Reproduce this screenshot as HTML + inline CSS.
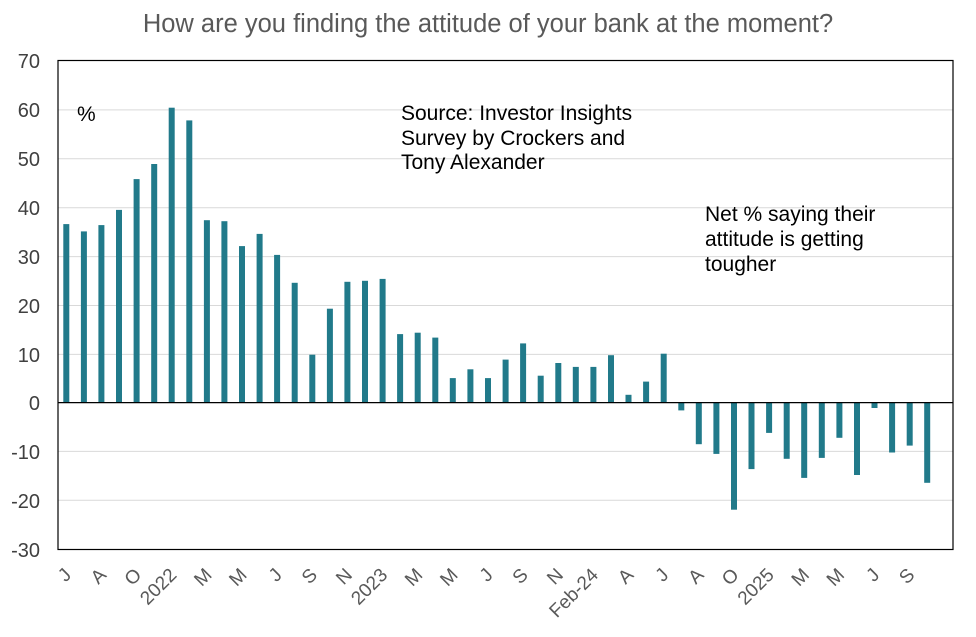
<!DOCTYPE html>
<html><head><meta charset="utf-8"><style>body{margin:0;background:#fff}svg{display:block}</style></head>
<body>
<svg width="976" height="637" xmlns="http://www.w3.org/2000/svg" font-family="Liberation Sans, Arial, sans-serif">
<text x="488" y="32" font-size="25.5" fill="#595959" text-anchor="middle">How are you finding the attitude of your bank at the moment?</text>
<g stroke="#d9d9d9" stroke-width="1">
<line x1="58" x2="953" y1="109.9" y2="109.9"/><line x1="58" x2="953" y1="158.8" y2="158.8"/><line x1="58" x2="953" y1="207.7" y2="207.7"/><line x1="58" x2="953" y1="256.6" y2="256.6"/><line x1="58" x2="953" y1="305.5" y2="305.5"/><line x1="58" x2="953" y1="354.4" y2="354.4"/><line x1="58" x2="953" y1="451.4" y2="451.4"/><line x1="58" x2="953" y1="500.3" y2="500.3"/>
</g>
<g fill="#217a8a">
<rect x="63.3" y="224.1" width="6" height="178.5"/>
<rect x="80.9" y="231.4" width="6" height="171.2"/>
<rect x="98.4" y="225.1" width="6" height="177.5"/>
<rect x="116.0" y="209.9" width="6" height="192.7"/>
<rect x="133.6" y="179.1" width="6" height="223.5"/>
<rect x="151.2" y="164.0" width="6" height="238.6"/>
<rect x="168.7" y="107.7" width="6" height="294.9"/>
<rect x="186.3" y="120.4" width="6" height="282.2"/>
<rect x="203.9" y="220.2" width="6" height="182.4"/>
<rect x="221.4" y="221.2" width="6" height="181.4"/>
<rect x="239.0" y="246.1" width="6" height="156.5"/>
<rect x="256.6" y="233.9" width="6" height="168.7"/>
<rect x="274.1" y="254.9" width="6" height="147.7"/>
<rect x="291.7" y="282.8" width="6" height="119.8"/>
<rect x="309.3" y="354.7" width="6" height="47.9"/>
<rect x="326.9" y="308.7" width="6" height="93.9"/>
<rect x="344.4" y="281.8" width="6" height="120.8"/>
<rect x="362.0" y="280.8" width="6" height="121.8"/>
<rect x="379.6" y="278.9" width="6" height="123.7"/>
<rect x="397.1" y="334.1" width="6" height="68.5"/>
<rect x="414.7" y="332.7" width="6" height="69.9"/>
<rect x="432.3" y="337.6" width="6" height="65.0"/>
<rect x="449.8" y="378.1" width="6" height="24.5"/>
<rect x="467.4" y="369.3" width="6" height="33.3"/>
<rect x="485.0" y="378.1" width="6" height="24.5"/>
<rect x="502.6" y="359.6" width="6" height="43.0"/>
<rect x="520.1" y="343.4" width="6" height="59.2"/>
<rect x="537.7" y="375.7" width="6" height="26.9"/>
<rect x="555.3" y="363.0" width="6" height="39.6"/>
<rect x="572.8" y="366.9" width="6" height="35.7"/>
<rect x="590.4" y="366.9" width="6" height="35.7"/>
<rect x="608.0" y="355.2" width="6" height="47.4"/>
<rect x="625.5" y="394.8" width="6" height="7.8"/>
<rect x="643.1" y="381.6" width="6" height="21.0"/>
<rect x="660.7" y="353.7" width="6" height="48.9"/>
<rect x="678.3" y="402.6" width="6" height="7.8"/>
<rect x="695.8" y="402.6" width="6" height="41.6"/>
<rect x="713.4" y="402.6" width="6" height="51.3"/>
<rect x="731.0" y="402.6" width="6" height="107.1"/>
<rect x="748.5" y="402.6" width="6" height="66.5"/>
<rect x="766.1" y="402.6" width="6" height="30.3"/>
<rect x="783.7" y="402.6" width="6" height="56.2"/>
<rect x="801.2" y="402.6" width="6" height="75.3"/>
<rect x="818.8" y="402.6" width="6" height="55.3"/>
<rect x="836.4" y="402.6" width="6" height="35.2"/>
<rect x="854.0" y="402.6" width="6" height="72.4"/>
<rect x="871.5" y="402.6" width="6" height="5.4"/>
<rect x="889.1" y="402.6" width="6" height="49.9"/>
<rect x="906.7" y="402.6" width="6" height="43.0"/>
<rect x="924.2" y="402.6" width="6" height="80.2"/>
</g>
<rect x="58" y="60.5" width="895" height="489" fill="none" stroke="#000" stroke-width="1.2"/>
<line x1="58" x2="953" y1="402.6" y2="402.6" stroke="#000" stroke-width="1.2"/>
<g font-size="20" fill="#404040" text-anchor="end">
<text x="40" y="68">70</text><text x="40" y="117">60</text><text x="40" y="166">50</text><text x="40" y="215">40</text><text x="40" y="264">30</text><text x="40" y="313">20</text><text x="40" y="362">10</text><text x="40" y="410">0</text><text x="40" y="459">-10</text><text x="40" y="508">-20</text><text x="40" y="557">-30</text>
</g>
<g font-size="21" fill="#000">
<text x="77" y="121">%</text>
<text x="401" y="120">Source: Investor Insights</text>
<text x="401" y="145">Survey by Crockers and</text>
<text x="401" y="169">Tony Alexander</text>
<text x="705" y="221">Net % saying their</text>
<text x="705" y="246">attitude is getting</text>
<text x="705" y="271">tougher</text>
</g>
<g font-size="19" fill="#595959" text-anchor="end">
<text x="72.3" y="576" transform="rotate(-45 72.3 576)">J</text>
<text x="107.4" y="576" transform="rotate(-45 107.4 576)">A</text>
<text x="142.6" y="576" transform="rotate(-45 142.6 576)">O</text>
<text x="177.7" y="576" transform="rotate(-45 177.7 576)">2022</text>
<text x="212.9" y="576" transform="rotate(-45 212.9 576)">M</text>
<text x="248.0" y="576" transform="rotate(-45 248.0 576)">M</text>
<text x="283.1" y="576" transform="rotate(-45 283.1 576)">J</text>
<text x="318.3" y="576" transform="rotate(-45 318.3 576)">S</text>
<text x="353.4" y="576" transform="rotate(-45 353.4 576)">N</text>
<text x="388.6" y="576" transform="rotate(-45 388.6 576)">2023</text>
<text x="423.7" y="576" transform="rotate(-45 423.7 576)">M</text>
<text x="458.9" y="576" transform="rotate(-45 458.9 576)">M</text>
<text x="494.0" y="576" transform="rotate(-45 494.0 576)">J</text>
<text x="529.1" y="576" transform="rotate(-45 529.1 576)">S</text>
<text x="564.3" y="576" transform="rotate(-45 564.3 576)">N</text>
<text x="599.4" y="576" transform="rotate(-45 599.4 576)">Feb-24</text>
<text x="634.6" y="576" transform="rotate(-45 634.6 576)">A</text>
<text x="669.7" y="576" transform="rotate(-45 669.7 576)">J</text>
<text x="704.8" y="576" transform="rotate(-45 704.8 576)">A</text>
<text x="740.0" y="576" transform="rotate(-45 740.0 576)">O</text>
<text x="775.1" y="576" transform="rotate(-45 775.1 576)">2025</text>
<text x="810.3" y="576" transform="rotate(-45 810.3 576)">M</text>
<text x="845.4" y="576" transform="rotate(-45 845.4 576)">M</text>
<text x="880.6" y="576" transform="rotate(-45 880.6 576)">J</text>
<text x="915.7" y="576" transform="rotate(-45 915.7 576)">S</text>
</g>
</svg>
</body></html>
